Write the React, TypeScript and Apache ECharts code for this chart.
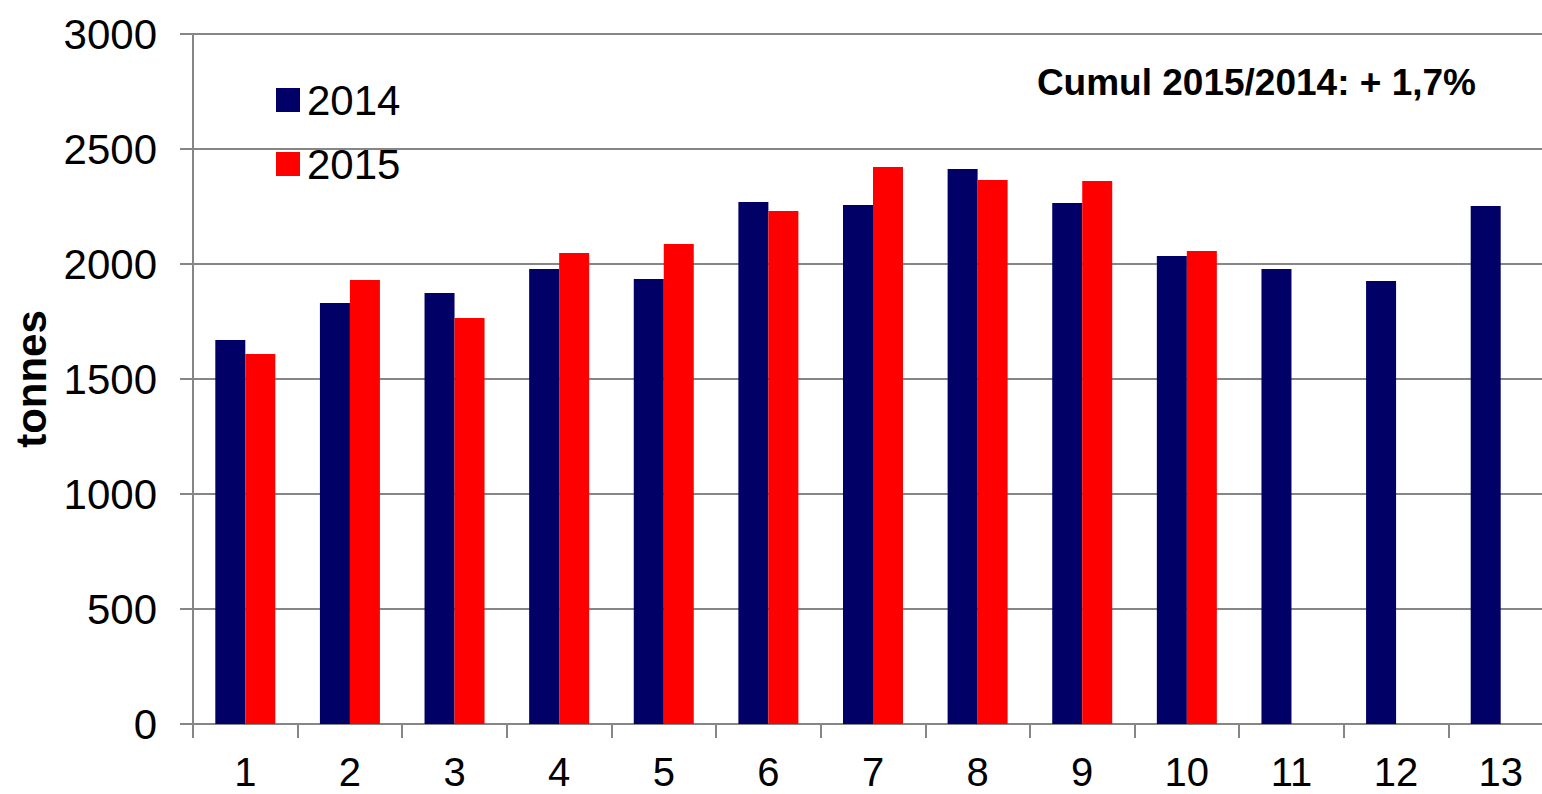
import React, { useEffect, useRef } from "react";
import * as echarts from "echarts";

const categories = ["1", "2", "3", "4", "5", "6", "7", "8", "9", "10", "11", "12", "13"];
const values2014 = [1670, 1830, 1874, 1978, 1935, 2270, 2257, 2413, 2265, 2035, 1978, 1926, 2252];
const values2015: (number | null)[] = [1609, 1930, 1765, 2048, 2087, 2230, 2422, 2365, 2361, 2057, null, null, null];
const yTicks = [0, 500, 1000, 1500, 2000, 2500, 3000];
const annotation = "Cumul 2015/2014: + 1,7%";
const yTitle = "tonnes";

const FONT = "'Liberation Sans', Arial, sans-serif";
const GRAY = "#868686";

export default function App() {
  const ref = useRef<HTMLDivElement>(null);
  useEffect(() => {
    if (!ref.current) return;
    const chart = echarts.init(ref.current, null, { renderer: "svg" });
    chart.setOption({
      animation: false,
      backgroundColor: "#ffffff",
      textStyle: { fontFamily: FONT },
      grid: {
        left: 193,
        top: 34,
        width: 1360,
        height: 690,
        containLabel: false,
        outerBoundsMode: "none",
      },
      legend: {
        orient: "vertical",
        left: 276,
        top: 79,
        padding: 0,
        itemGap: 22,
        itemWidth: 24,
        itemHeight: 24,
        icon: "rect",
        textStyle: { fontSize: 42, color: "#000", fontFamily: FONT, lineHeight: 40, padding: [0, 0, 0, 2] },
        data: ["2014", "2015"],
      },
      xAxis: {
        type: "category",
        data: categories,
        boundaryGap: true,
        axisLine: { show: true, lineStyle: { color: GRAY, width: 2 } },
        axisTick: { show: true, length: 14, lineStyle: { color: GRAY, width: 2 }, alignWithLabel: false },
        axisLabel: { fontSize: 40, lineHeight: 34, color: "#000", margin: 31, fontFamily: FONT, interval: 0 },
        splitLine: { show: false },
      },
      yAxis: {
        type: "value",
        min: yTicks[0],
        max: yTicks[yTicks.length - 1],
        interval: 500,
        axisLine: { show: true, lineStyle: { color: GRAY, width: 2 } },
        axisTick: { show: true, length: 13, lineStyle: { color: GRAY, width: 2 } },
        axisLabel: {
          fontSize: 42,
          color: "#000",
          margin: 36,
          fontFamily: FONT,
          formatter: (v: number) => String(v),
        },
        splitLine: { show: true, lineStyle: { color: GRAY, width: 2 } },
      },
      series: [
        {
          name: "2014",
          type: "bar",
          data: values2014,
          barWidth: 30,
          barGap: "0%",
          itemStyle: { color: "#000066" },
        },
        {
          name: "2015",
          type: "bar",
          data: values2015,
          barWidth: 30,
          barGap: "0%",
          itemStyle: { color: "#ff0000" },
        },
      ],
      graphic: [
        {
          type: "text",
          x: 1476,
          y: 82,
          style: {
            text: annotation,
            fontSize: 37,
            fontWeight: "bold",
            fontFamily: FONT,
            fill: "#000",
            align: "right",
            verticalAlign: "middle",
          },
        },
        {
          type: "text",
          x: 31,
          y: 379,
          rotation: Math.PI / 2,
          style: {
            text: yTitle,
            fontSize: 42,
            fontWeight: "bold",
            fontFamily: FONT,
            fill: "#000",
            align: "center",
            verticalAlign: "middle",
          },
        },
      ],
    });
    return () => chart.dispose();
  }, []);
  return (
    <div
      ref={ref}
      style={{ position: "absolute", left: 0, top: 0, width: 1542, height: 794, overflow: "hidden" }}
    />
  );
}
